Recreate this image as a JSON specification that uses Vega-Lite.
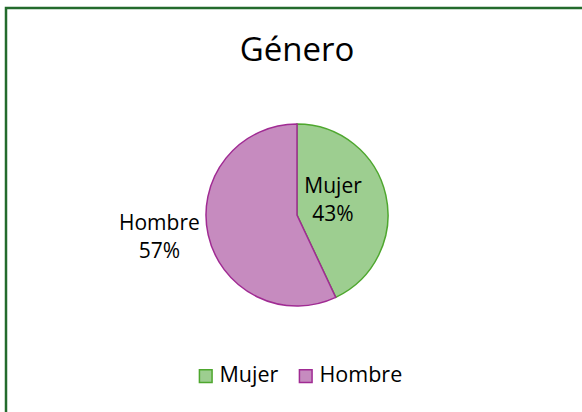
{
  "$schema": "https://vega.github.io/schema/vega-lite/v6.json",
  "width": 582,
  "height": 414,
  "autosize": {"type": "none"},
  "padding": {"left": 6, "top": 8, "right": 0, "bottom": 0},
  "background": "white",
  "view": {"stroke": "#236b2c", "strokeWidth": 2.5, "fill": "white"},
  "config": {
    "font": "Open Sans"
  },
  "title": {
    "text": "Género",
    "fontSize": 33,
    "fontWeight": "normal",
    "color": "#000000",
    "anchor": "middle",
    "baseline": "alphabetic",
    "offset": -86
  },
  "data": {
    "values": [
      {"genero": "Mujer", "valor": 43, "etiqueta": "Mujer\n43%"},
      {"genero": "Hombre", "valor": 57, "etiqueta": "Hombre\n57%"}
    ]
  },
  "encoding": {
    "theta": {"field": "valor", "type": "quantitative", "stack": true},
    "order": {"field": "genero", "sort": "descending"}
  },
  "layer": [
    {
      "mark": {"type": "arc", "radius": 91, "strokeWidth": 1.5},
      "encoding": {
        "fill": {
          "field": "genero", "type": "nominal",
          "scale": {"domain": ["Mujer", "Hombre"], "range": ["#9dce90", "#c68bbf"]},
          "legend": {
            "title": null, "orient": "none", "legendX": 189, "legendY": 357,
            "direction": "horizontal", "symbolType": "square", "symbolSize": 160,
            "symbolStrokeWidth": 1.5, "labelFontSize": 21.5, "labelColor": "#000000",
            "labelOffset": 3, "columnPadding": 16
          }
        },
        "stroke": {
          "field": "genero", "type": "nominal",
          "scale": {"domain": ["Mujer", "Hombre"], "range": ["#4ea72e", "#a02b93"]}
        }
      }
    },
    {
      "mark": {"type": "text", "radius": 40, "dx": -3, "dy": -19, "fontSize": 21, "lineBreak": "\n", "lineHeight": 28, "color": "#000000"},
      "encoding": {
        "text": {"condition": {"test": "datum.genero === 'Mujer'", "field": "etiqueta"}, "value": ""}
      }
    },
    {
      "mark": {"type": "text", "radius": 141, "dy": -22, "fontSize": 21, "lineBreak": "\n", "lineHeight": 28, "color": "#000000"},
      "encoding": {
        "text": {"condition": {"test": "datum.genero === 'Hombre'", "field": "etiqueta"}, "value": ""}
      }
    }
  ]
}
